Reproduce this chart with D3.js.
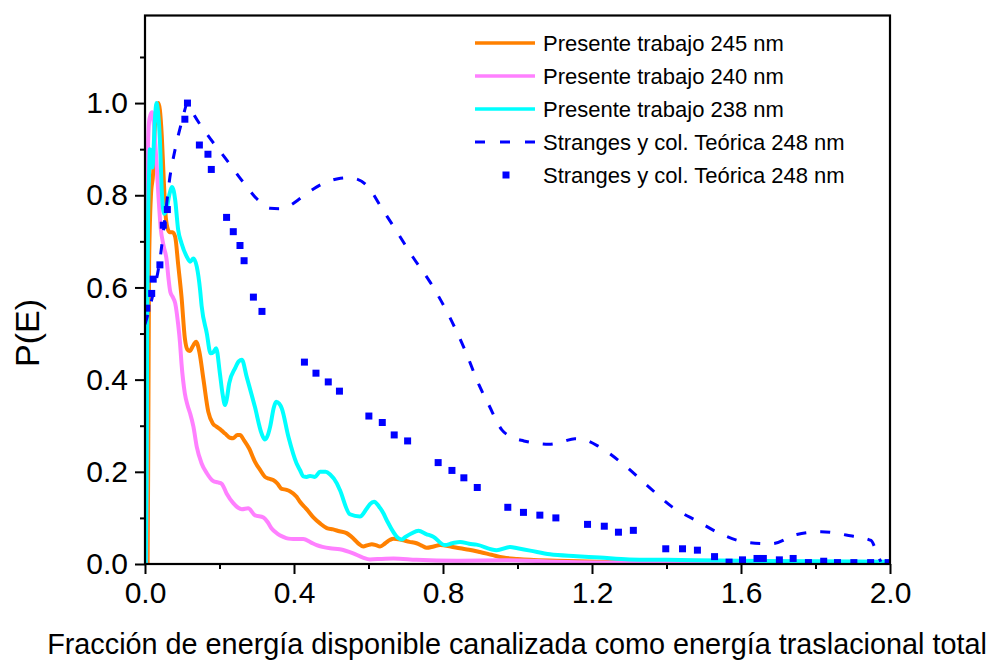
<!DOCTYPE html>
<html>
<head>
<meta charset="utf-8">
<script src="https://cdn.jsdelivr.net/npm/d3@7"></script>
<style>
  html, body { margin: 0; padding: 0; background: #fff; }
  svg { display: block; font-family: "Liberation Sans", Arial, sans-serif; }
</style>
</head>
<body>
<svg id="chart" width="990" height="660"></svg>
<script>
// P(E) distributions: [fraction of available energy, P(E)]
const pe245 = [[0,0],[0.007,0],[0.009,0.3],[0.011,0.65],[0.016,0.8],[0.022,0.85],[0.027,0.957],[0.032,0.99],[0.036,1.0],[0.04,0.985],[0.045,0.93],[0.05,0.84],[0.055,0.76],[0.06,0.73],[0.066,0.72],[0.074,0.72],[0.081,0.71],[0.089,0.65],[0.098,0.58],[0.107,0.49],[0.114,0.465],[0.12,0.462],[0.13,0.475],[0.137,0.482],[0.146,0.46],[0.157,0.40],[0.17,0.33],[0.182,0.305],[0.192,0.298],[0.205,0.29],[0.215,0.283],[0.228,0.274],[0.237,0.273],[0.248,0.28],[0.255,0.28],[0.266,0.268],[0.28,0.25],[0.295,0.222],[0.309,0.204],[0.322,0.189],[0.333,0.185],[0.344,0.182],[0.355,0.175],[0.367,0.163],[0.38,0.161],[0.389,0.158],[0.407,0.146],[0.416,0.135],[0.435,0.118],[0.452,0.101],[0.47,0.088],[0.488,0.078],[0.505,0.075],[0.522,0.071],[0.541,0.067],[0.56,0.055],[0.575,0.043],[0.586,0.038],[0.598,0.041],[0.609,0.043],[0.62,0.041],[0.631,0.038],[0.645,0.045],[0.657,0.052],[0.667,0.055],[0.69,0.052],[0.71,0.048],[0.729,0.045],[0.745,0.039],[0.756,0.035],[0.775,0.038],[0.792,0.041],[0.82,0.038],[0.846,0.034],[0.87,0.031],[0.899,0.026],[0.93,0.02],[0.962,0.014],[1.0,0.011],[1.034,0.009],[1.105,0.007],[1.213,0.005],[1.4,0.004],[1.6,0.004],[1.8,0.004],[2.0,0.004]];

const pe240 = [[0,0],[0.003,0],[0.004,0.18],[0.006,0.7],[0.008,0.9],[0.011,0.96],[0.015,0.975],[0.019,0.98],[0.023,0.96],[0.027,0.92],[0.031,0.87],[0.036,0.8],[0.042,0.73],[0.05,0.69],[0.058,0.66],[0.063,0.62],[0.068,0.59],[0.074,0.58],[0.081,0.566],[0.089,0.52],[0.094,0.48],[0.098,0.435],[0.107,0.37],[0.114,0.345],[0.121,0.327],[0.13,0.298],[0.139,0.254],[0.152,0.218],[0.166,0.197],[0.183,0.18],[0.196,0.177],[0.206,0.174],[0.219,0.153],[0.237,0.132],[0.25,0.122],[0.26,0.119],[0.277,0.121],[0.295,0.106],[0.318,0.101],[0.33,0.09],[0.34,0.077],[0.355,0.066],[0.371,0.059],[0.385,0.055],[0.398,0.054],[0.425,0.054],[0.445,0.047],[0.461,0.041],[0.497,0.034],[0.523,0.032],[0.559,0.023],[0.585,0.014],[0.604,0.01],[0.635,0.011],[0.667,0.012],[0.729,0.009],[0.837,0.007],[0.971,0.008],[1.105,0.005],[1.3,0.003],[1.6,0.003],[2.0,0.003]];

const pe238 = [[0,0],[0.002,0],[0.004,0.18],[0.006,0.55],[0.008,0.73],[0.011,0.85],[0.013,0.9],[0.017,0.89],[0.02,0.86],[0.023,0.9],[0.027,0.97],[0.031,1.0],[0.035,0.98],[0.04,0.92],[0.045,0.81],[0.051,0.76],[0.058,0.77],[0.065,0.8],[0.072,0.818],[0.077,0.81],[0.081,0.79],[0.089,0.725],[0.098,0.696],[0.112,0.667],[0.121,0.656],[0.13,0.663],[0.139,0.645],[0.148,0.594],[0.152,0.56],[0.166,0.50],[0.176,0.457],[0.184,0.46],[0.191,0.468],[0.201,0.414],[0.208,0.37],[0.215,0.345],[0.22,0.36],[0.226,0.392],[0.242,0.425],[0.252,0.44],[0.26,0.443],[0.273,0.406],[0.295,0.341],[0.313,0.283],[0.322,0.27],[0.33,0.28],[0.336,0.298],[0.346,0.34],[0.352,0.352],[0.36,0.348],[0.367,0.338],[0.385,0.276],[0.407,0.218],[0.416,0.204],[0.425,0.19],[0.434,0.189],[0.443,0.191],[0.456,0.189],[0.47,0.2],[0.485,0.2],[0.497,0.194],[0.515,0.175],[0.523,0.161],[0.55,0.108],[0.577,0.103],[0.595,0.12],[0.604,0.13],[0.615,0.135],[0.628,0.125],[0.64,0.11],[0.649,0.095],[0.68,0.056],[0.689,0.053],[0.698,0.058],[0.715,0.066],[0.734,0.072],[0.755,0.065],[0.774,0.059],[0.805,0.041],[0.825,0.045],[0.846,0.048],[0.87,0.044],[0.89,0.042],[0.944,0.03],[0.98,0.037],[1.0,0.034],[1.034,0.029],[1.087,0.021],[1.159,0.017],[1.221,0.014],[1.3,0.01],[1.4,0.009],[1.6,0.007],[1.8,0.006],[2.0,0.005]];

// Stranges et al., theoretical curve and points at 248 nm
const strangesCurve = [[0,0.52],[0.02,0.58],[0.04,0.66],[0.055,0.76],[0.067,0.84],[0.081,0.90],[0.099,0.96],[0.115,1.0],[0.129,0.978],[0.166,0.933],[0.215,0.881],[0.266,0.826],[0.303,0.79],[0.335,0.772],[0.36,0.771],[0.384,0.776],[0.42,0.795],[0.451,0.813],[0.485,0.828],[0.518,0.836],[0.545,0.838],[0.569,0.835],[0.599,0.818],[0.634,0.774],[0.677,0.72],[0.719,0.666],[0.765,0.612],[0.819,0.534],[0.859,0.464],[0.897,0.388],[0.923,0.345],[0.958,0.291],[0.985,0.275],[1.017,0.267],[1.05,0.262],[1.085,0.260],[1.12,0.265],[1.154,0.272],[1.185,0.268],[1.216,0.256],[1.283,0.217],[1.35,0.169],[1.415,0.124],[1.485,0.092],[1.549,0.064],[1.616,0.047],[1.683,0.044],[1.75,0.064],[1.815,0.07],[1.882,0.063],[1.949,0.051],[1.962,0.03],[1.975,0.005]];

const strangesPoints = [[0.005,0.555],[0.018,0.587],[0.022,0.618],[0.040,0.649],[0.049,0.735],[0.060,0.769],[0.107,0.965],[0.114,1.0],[0.146,0.909],[0.169,0.889],[0.178,0.856],[0.219,0.752],[0.237,0.721],[0.255,0.691],[0.266,0.658],[0.291,0.579],[0.314,0.548],[0.428,0.438],[0.459,0.414],[0.492,0.395],[0.522,0.375],[0.601,0.321],[0.637,0.307],[0.669,0.280],[0.705,0.267],[0.787,0.220],[0.824,0.203],[0.856,0.187],[0.892,0.166],[0.974,0.123],[1.016,0.112],[1.060,0.106],[1.103,0.100],[1.188,0.086],[1.233,0.082],[1.271,0.069],[1.311,0.073],[1.398,0.033],[1.443,0.033],[1.483,0.030],[1.529,0.016],[1.568,0.004],[1.604,0.009],[1.643,0.012],[1.660,0.012],[1.703,0.009],[1.740,0.012],[1.781,0.003],[1.822,0.006],[1.859,0.003],[1.903,0.003],[1.948,0.003],[1.995,0.003]];

const xTicks = [0.0, 0.4, 0.8, 1.2, 1.6, 2.0];
const yTicks = [0.0, 0.2, 0.4, 0.6, 0.8, 1.0];
const legendLabels = ["Presente trabajo 245 nm", "Presente trabajo 240 nm", "Presente trabajo 238 nm",
                      "Stranges y col. Teórica 248 nm", "Stranges y col. Teórica 248 nm"];
const seriesColors = ["#ff8000", "#ff80ff", "#00ffff", "#0000ff", "#0000ff"];

const svg = d3.select("#chart");
const plotLeft = 145, plotRight = 890, plotTop = 15.5, plotBottom = 564;

const x = d3.scaleLinear().domain([0, 2]).range([plotLeft, plotRight]);
const y = d3.scaleLinear().domain([0, 1.19]).range([plotBottom, plotTop]);

const line = d3.line().x(d => x(d[0])).y(d => y(d[1])).curve(d3.curveMonotoneX);

const plot = svg.append("g");
plot.append("clipPath").attr("id", "clip")
  .append("rect").attr("x", plotLeft).attr("y", plotTop)
  .attr("width", plotRight - plotLeft).attr("height", plotBottom - plotTop);
const g = plot.append("g").attr("clip-path", "url(#clip)");

[pe245, pe240, pe238].forEach((s, i) => {
  g.append("path").datum(s).attr("d", line)
    .attr("fill", "none").attr("stroke", seriesColors[i])
    .attr("stroke-width", 4).attr("stroke-linejoin", "round");
});

g.append("path").datum(strangesCurve).attr("d", line)
  .attr("fill", "none").attr("stroke", seriesColors[3])
  .attr("stroke-width", 3).attr("stroke-dasharray", "10,14");

g.selectAll("rect.pt").data(strangesPoints).enter().append("rect")
  .attr("class", "pt")
  .attr("x", d => x(d[0]) - 3.5).attr("y", d => y(d[1]) - 3.5)
  .attr("width", 7).attr("height", 7).attr("fill", seriesColors[4]);

// Frame
svg.append("rect").attr("x", plotLeft).attr("y", plotTop)
  .attr("width", plotRight - plotLeft).attr("height", plotBottom - plotTop)
  .attr("fill", "none").attr("stroke", "#000").attr("stroke-width", 2.2);

// Axes
const xAxis = d3.axisBottom(x).tickValues(xTicks).tickFormat(d3.format(".1f")).tickSize(10).tickPadding(8);
const gx = svg.append("g").attr("transform", `translate(0,${plotBottom})`).call(xAxis);
gx.select(".domain").remove();
gx.selectAll("line").attr("stroke", "#000").attr("stroke-width", 2);
gx.selectAll("text").attr("font-size", 30).attr("fill", "#000")
  .attr("font-family", "Liberation Sans, Arial, sans-serif");

const xMinor = d3.axisBottom(x).tickValues([0.2, 0.6, 1.0, 1.4, 1.8]).tickFormat("").tickSize(5);
const gxm = svg.append("g").attr("transform", `translate(0,${plotBottom})`).call(xMinor);
gxm.select(".domain").remove();
gxm.selectAll("line").attr("stroke", "#000").attr("stroke-width", 2);

const yAxis = d3.axisLeft(y).tickValues(yTicks).tickFormat(d3.format(".1f")).tickSize(10).tickPadding(7);
const gy = svg.append("g").attr("transform", `translate(${plotLeft},0)`).call(yAxis);
gy.select(".domain").remove();
gy.selectAll("line").attr("stroke", "#000").attr("stroke-width", 2);
gy.selectAll("text").attr("font-size", 30).attr("fill", "#000")
  .attr("font-family", "Liberation Sans, Arial, sans-serif");

const yMinor = d3.axisLeft(y).tickValues([0.1, 0.3, 0.5, 0.7, 0.9, 1.1]).tickFormat("").tickSize(5);
const gym = svg.append("g").attr("transform", `translate(${plotLeft},0)`).call(yMinor);
gym.select(".domain").remove();
gym.selectAll("line").attr("stroke", "#000").attr("stroke-width", 2);

// Axis titles
svg.append("text").attr("x", 517).attr("y", 654).attr("text-anchor", "middle")
  .attr("font-size", 28.8).attr("fill", "#000")
  .text("Fracción de energía disponible canalizada como energía traslacional total");

svg.append("text").attr("transform", "translate(27,333) rotate(-90)")
  .attr("text-anchor", "middle").attr("dy", "0.36em")
  .attr("font-size", 34).attr("fill", "#000").text("P(E)");

// Legend
const legend = svg.append("g");
legendLabels.forEach((lab, i) => {
  const ly = 43 + i * 33;
  const row = legend.append("g");
  if (i < 3) {
    row.append("line").attr("x1", 475).attr("x2", 535).attr("y1", ly).attr("y2", ly)
      .attr("stroke", seriesColors[i]).attr("stroke-width", 3.5);
  } else if (i === 3) {
    row.append("line").attr("x1", 475).attr("x2", 535).attr("y1", ly).attr("y2", ly)
      .attr("stroke", seriesColors[i]).attr("stroke-width", 3).attr("stroke-dasharray", "10,15");
  } else {
    row.append("rect").attr("x", 502.5).attr("y", ly - 3.5).attr("width", 7).attr("height", 7)
      .attr("fill", seriesColors[i]);
  }
  row.append("text").attr("x", 543).attr("y", ly).attr("dy", "0.36em")
    .attr("font-size", 22).attr("fill", "#000").text(lab);
});
</script>
</body>
</html>
